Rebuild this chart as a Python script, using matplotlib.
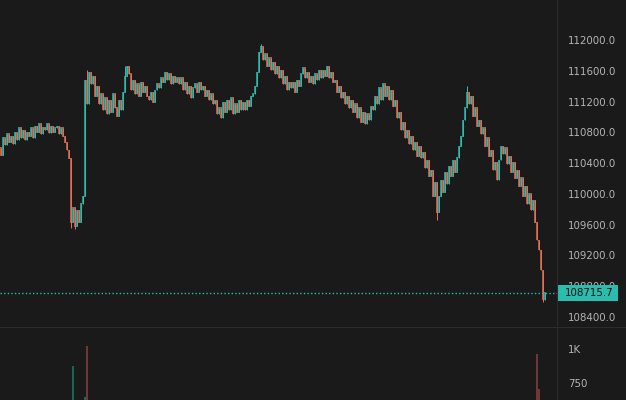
import matplotlib

matplotlib.use('Agg')
import matplotlib.pyplot as plt
from matplotlib.lines import Line2D
from matplotlib.patches import Rectangle
from matplotlib.transforms import blended_transform_factory

# ----- data (closes, one per candle) ------------------------------------
closes = [
    110500, 110730, 110640, 110780, 110670, 110750, 110650, 110800, 110700,
    110860, 110730, 110830, 110700, 110800, 110750, 110860, 110730,
    110880, 110800, 110910, 110780, 110870, 110830, 110910, 110790, 110880,
    110800, 110860, 110880, 110780, 110860,
    110750, 110670, 110570, 110460,
    109630, 109820, 109580, 109790, 109630, 109870, 109970,
    111480, 111170, 111580, 111430, 111530, 111270, 111400, 111170, 111300,
    111090, 111250, 111040, 111220, 111060, 111300, 111120, 111010, 111220, 111090,
    111320, 111530, 111660, 111560,
    111350, 111480, 111300, 111430, 111270, 111450, 111320, 111400, 111270,
    111220, 111320, 111190, 111350,
    111430, 111380, 111510, 111450, 111580, 111480, 111560, 111430, 111530,
    111450, 111510,
    111430, 111510, 111350, 111450, 111300, 111400, 111250, 111380,
    111430, 111320, 111450, 111350, 111400,
    111270, 111350, 111220, 111300, 111170,
    111220, 111040, 111120, 110990, 111190,
    111060, 111220, 111090, 111250, 111040, 111170, 111060, 111220, 111090,
    111190, 111090, 111220, 111140, 111270,
    111300, 111400, 111580, 111840,
    111920, 111740, 111820, 111660, 111770, 111610, 111710,
    111560, 111660, 111510, 111610, 111430, 111530, 111350, 111450, 111380,
    111450, 111320, 111480, 111400, 111560,
    111640, 111510, 111580, 111450, 111530, 111430, 111560, 111480, 111610, 111510,
    111610, 111530, 111660, 111510, 111580, 111450,
    111480, 111320, 111400, 111250, 111320, 111170, 111270, 111120, 111220,
    111060, 111170, 110990, 111120, 110930, 111060, 110910, 111040, 110960, 111140,
    111090, 111270, 111170, 111380, 111220, 111430, 111270, 111400, 111220, 111350,
    111140, 111220, 110990, 111060, 110830, 110930,
    110730, 110830, 110650, 110750, 110570, 110670, 110490, 110620, 110470,
    110540, 110340, 110440, 110230, 110310, 109970, 110150, 109760,
    109970, 110180, 110020, 110280, 110130, 110360, 110230, 110440, 110280, 110470,
    110620, 110750, 110960, 111120, 111320,
    111170, 111270, 111010, 111120, 110880, 110960, 110780,
    110860, 110620, 110730, 110490, 110570, 110310, 110410, 110180,
    110440, 110620, 110520,
    110600, 110390, 110490, 110280, 110410, 110200, 110310,
    110100, 110210, 109970, 110100, 109870, 110000, 109790, 109920,
    109630, 109400, 109270, 109010, 108620, 108715.7,
]
first_open = 110600
# wick extremes that stick out past the bodies
spike_high = {43: 111610, 130: 111950, 233: 111400, 62: 111660}
spike_low = {35: 109560, 37: 109540, 218: 109660, 271: 108600}

# volume bars tall enough to show in the (clipped) volume pane
vol_idx = [36, 42, 43, 268, 269]
vol_val = [875, 647, 1022, 963, 706]

price_ticks = [108400, 108800, 109200, 109600, 110000, 110400,
               110800, 111200, 111600, 112000]
vol_ticks = [750, 1000]
vol_labels = ['750', '1K']
# -------------------------------------------------------------------------

BG = '#1a1a1a'
UP = '#2bbcad'
DOWN = '#e46f58'
UP_VOL = '#1e7a70'
DOWN_VOL = '#8a4040'
TXT = '#b4b4b4'
GRID = '#2c2c2c'

W, H = 626, 400
X_AXIS = 557
Y_SPLIT = 327

fig = plt.figure(figsize=(W / 100, H / 100), dpi=100, facecolor=BG)
ax = fig.add_axes([0, (H - Y_SPLIT) / H, X_AXIS / W, Y_SPLIT / H], facecolor=BG)
vax = fig.add_axes([0, 0, X_AXIS / W, (H - Y_SPLIT - 1) / H], facecolor=BG)

opens = [first_open] + closes[:-1]
up = [c >= o for o, c in zip(opens, closes)]
for i, (o, c) in enumerate(zip(opens, closes)):
    col = UP if up[i] else DOWN
    hi = spike_high.get(i, max(o, c))
    lo = spike_low.get(i, min(o, c))
    ax.vlines(i, lo, hi, color=col, lw=0.72)
    ax.vlines(i, min(o, c) - 5, max(o, c) + 5, color=col, lw=1.1)

last = closes[-1]
ax.axhline(last, color=UP, lw=1.0, ls=(0, (1, 1.6)))

# quarter-unit offset puts each candle centre on a pixel centre
xlim = (-0.25, X_AXIS / 2 - 0.25)
ax.set_xlim(xlim)
ax.set_ylim(112520 - 13.0 * Y_SPLIT, 112520)
ax.yaxis.tick_right()
ax.set_yticks(price_ticks)
ax.set_yticklabels([f'{p:.1f}' for p in price_ticks])
ax.set_xticks([])
ax.tick_params(axis='y', length=0, pad=8, colors=TXT, labelsize=7.4)
for s in ax.spines.values():
    s.set_visible(False)

# last-price tag on the axis (covers the 108800 label, as in the original)
tr = blended_transform_factory(fig.transFigure, ax.transData)
ax.add_patch(Rectangle((X_AXIS / W, last - 8 * 13.0), 61 / W, 16 * 13.0,
                       transform=tr, facecolor=UP, edgecolor='none',
                       clip_on=False, zorder=10))
ax.text((X_AXIS + 8) / W, last, f'{last:.1f}', transform=tr, color='#111111',
        fontsize=7.4, va='center', ha='left', zorder=11, clip_on=False)

for i, v in zip(vol_idx, vol_val):
    vax.vlines(i, 0, v, color=UP_VOL if up[i] else DOWN_VOL, lw=1.1)
vax.set_xlim(xlim)
vax.set_ylim(625, 1154)
vax.yaxis.tick_right()
vax.set_yticks(vol_ticks)
vax.set_yticklabels(vol_labels)
vax.set_xticks([])
vax.tick_params(axis='y', length=0, pad=8, colors=TXT, labelsize=7.4)
for s in vax.spines.values():
    s.set_visible(False)

# pane separators
fig.add_artist(Line2D([X_AXIS / W] * 2, [0, 1], color=GRID, lw=0.8))
fig.add_artist(Line2D([0, 1], [(H - Y_SPLIT) / H] * 2, color=GRID, lw=0.8))

fig.savefig('out.png', dpi=100, facecolor=BG)
